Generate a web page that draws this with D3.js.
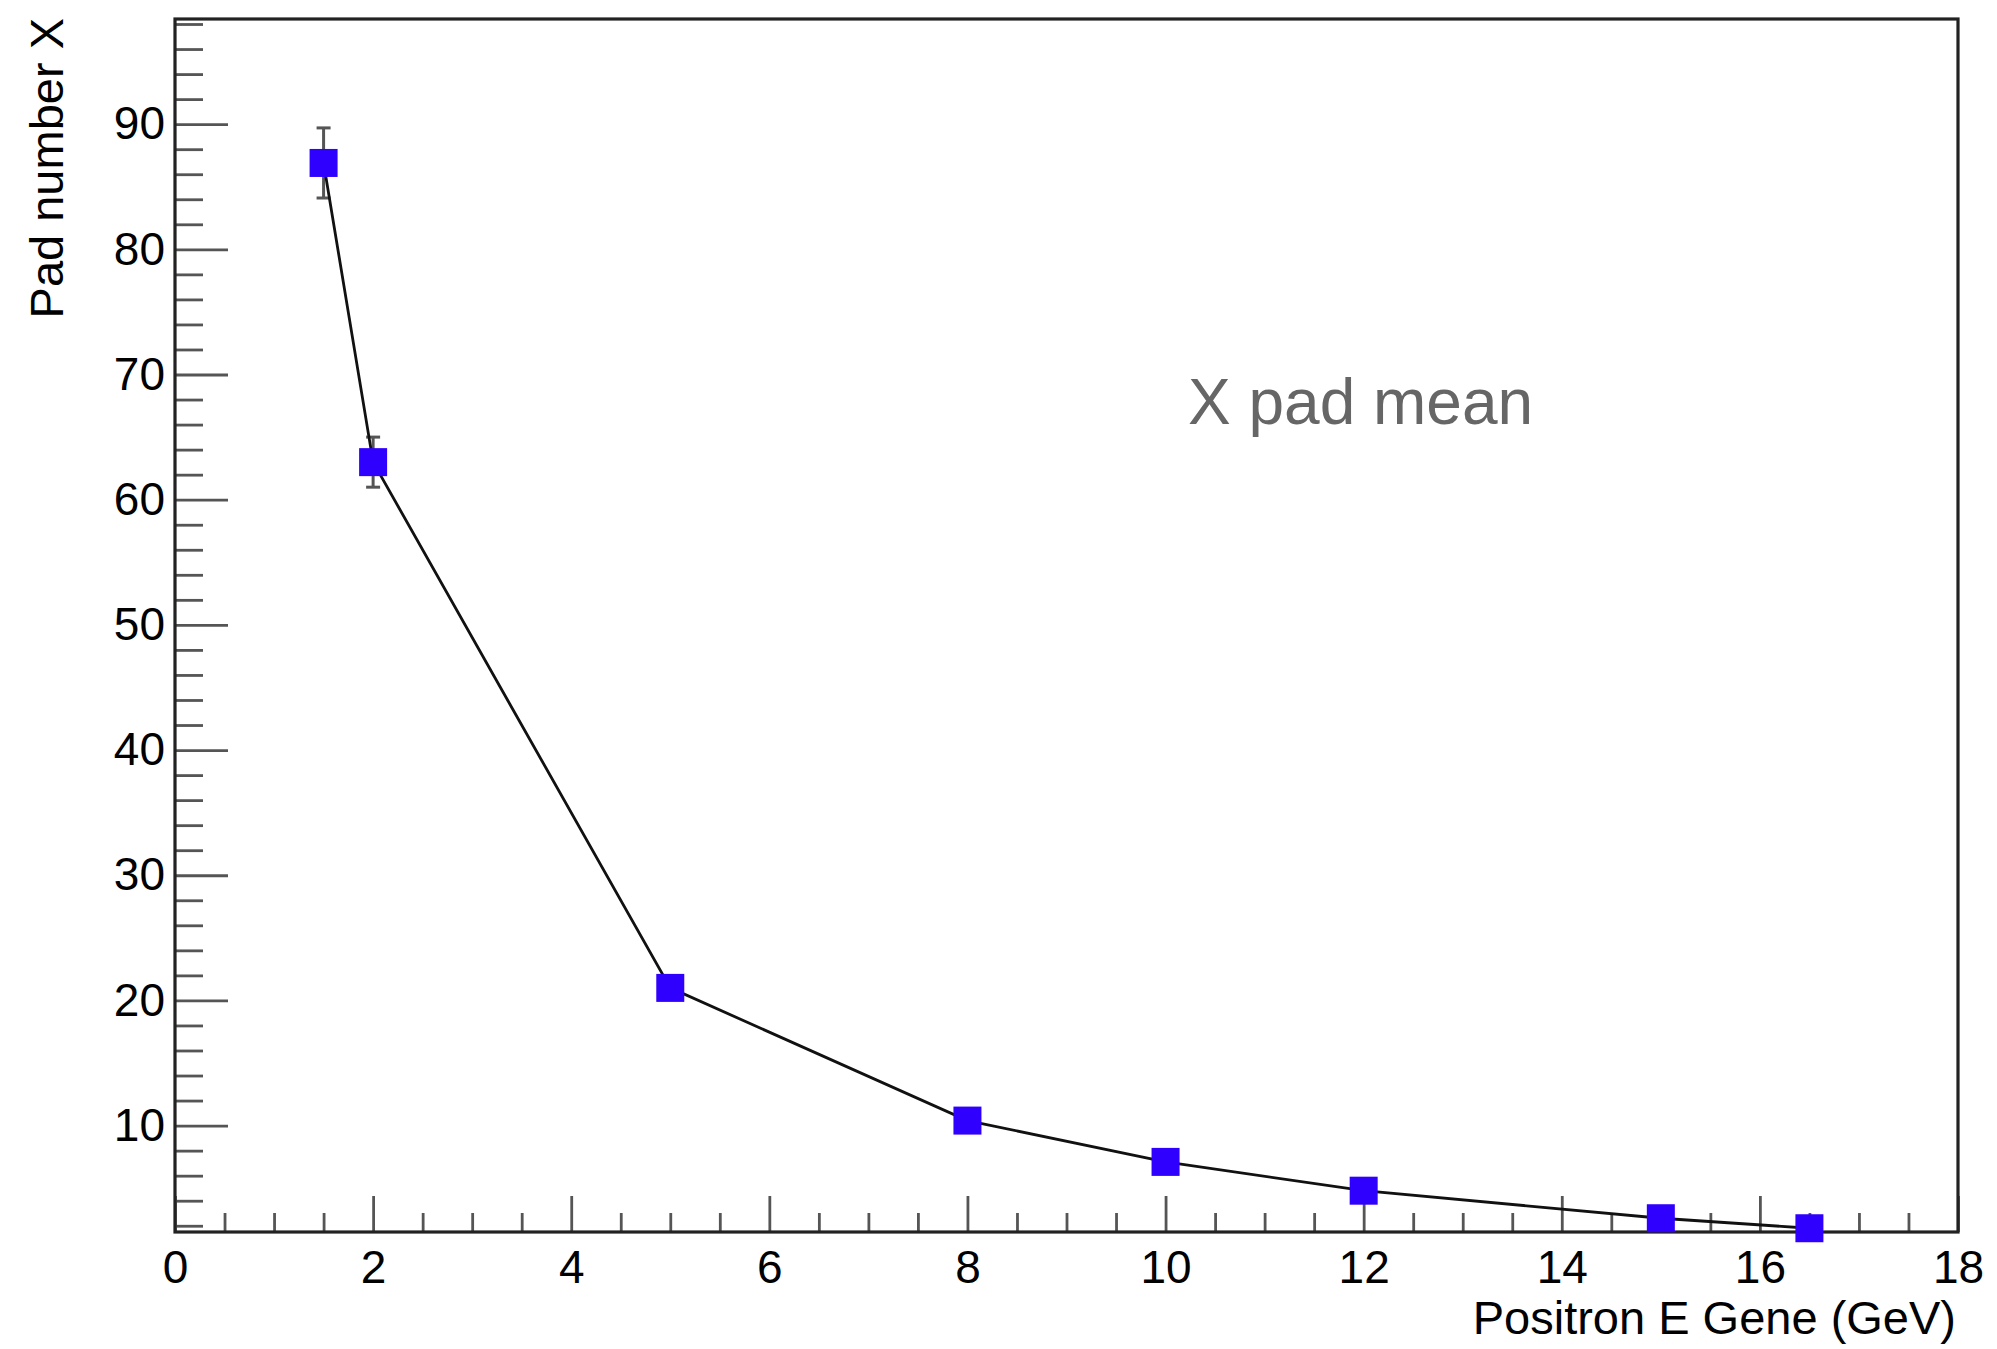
<!DOCTYPE html>
<html>
<head>
<meta charset="utf-8">
<script src="https://cdn.jsdelivr.net/npm/d3@7"></script>
<style>
  html, body { margin: 0; padding: 0; background: #fff; }
  svg { display: block; font-family: "Liberation Sans", Arial, Helvetica, sans-serif; }
</style>
</head>
<body>
<svg id="chart" width="1997" height="1349"></svg>
<script>
// positron generated energy (GeV) vs mean X pad number
const energy = [1.5, 2, 5, 8, 10, 12, 15, 16.5]
const padMean = [86.9, 63.0, 21.0, 10.4, 7.1, 4.8, 2.6, 1.8]
const padErr = [2.8, 2.0, 0.6, 0.4, 0.3, 0.3, 0.2, 0.2]

const xMajor = [0, 2, 4, 6, 8, 10, 12, 14, 16, 18]
const yMajor = [10, 20, 30, 40, 50, 60, 70, 80, 90]

const xTitle = 'Positron E Gene (GeV)'
const yTitle = 'Pad number X'
const note = 'X pad mean'

const frame = { left: 175, right: 1958, top: 19, bottom: 1232 }

const svg = d3.select('#chart')

const x = d3.scaleLinear().domain([0, 18]).range([frame.left, frame.right])
const y = d3.scaleLinear().domain([1.5, 98.4]).range([frame.bottom, frame.top])

const xMinor = d3.range(0.5, 18, 0.5).filter(v => Math.abs(v % 2) > 1e-6)
const yMinor = d3.range(2, 98.4, 2).filter(v => v % 10 !== 0)

// minor ticks first, then major, both pointing inside the frame
svg.append('g')
  .attr('transform', `translate(0,${frame.bottom})`)
  .call(d3.axisBottom(x).tickValues(xMinor).tickSize(-19).tickFormat(''))
  .call(g => g.select('.domain').remove())
  .call(g => g.selectAll('line').attr('stroke', '#555').attr('stroke-width', 2.8))

svg.append('g')
  .attr('transform', `translate(0,${frame.bottom})`)
  .call(d3.axisBottom(x).tickValues(xMajor).tickSize(-36).tickPadding(18).tickFormat(d3.format('d')))
  .call(g => g.select('.domain').remove())
  .call(g => g.selectAll('line').attr('stroke', '#555').attr('stroke-width', 2.8))
  .call(g => g.selectAll('text').attr('font-size', 46).attr('fill', '#000')
    .attr('font-family', '"Liberation Sans", Arial, Helvetica, sans-serif'))

svg.append('g')
  .attr('transform', `translate(${frame.left},0)`)
  .call(d3.axisLeft(y).tickValues(yMinor).tickSize(-28).tickFormat(''))
  .call(g => g.select('.domain').remove())
  .call(g => g.selectAll('line').attr('stroke', '#555').attr('stroke-width', 2.8))

svg.append('g')
  .attr('transform', `translate(${frame.left},0)`)
  .call(d3.axisLeft(y).tickValues(yMajor).tickSize(-53).tickPadding(10).tickFormat(d3.format('d')))
  .call(g => g.select('.domain').remove())
  .call(g => g.selectAll('line').attr('stroke', '#555').attr('stroke-width', 2.8))
  .call(g => g.selectAll('text').attr('font-size', 46).attr('fill', '#000')
    .attr('font-family', '"Liberation Sans", Arial, Helvetica, sans-serif'))

// frame
svg.append('rect')
  .attr('x', frame.left)
  .attr('y', frame.top)
  .attr('width', frame.right - frame.left)
  .attr('height', frame.bottom - frame.top)
  .attr('fill', 'none')
  .attr('stroke', '#222')
  .attr('stroke-width', 3.2)

const points = energy.map((e, i) => ({ x: e, y: padMean[i], err: padErr[i] }))

// error bars
const errs = svg.append('g').attr('class', 'errors')
  .selectAll('g').data(points).enter().append('g')
errs.append('line')
  .attr('x1', d => x(d.x)).attr('x2', d => x(d.x))
  .attr('y1', d => y(d.y + d.err)).attr('y2', d => y(d.y - d.err))
errs.append('line')
  .attr('x1', d => x(d.x) - 7).attr('x2', d => x(d.x) + 7)
  .attr('y1', d => y(d.y + d.err)).attr('y2', d => y(d.y + d.err))
errs.append('line')
  .attr('x1', d => x(d.x) - 7).attr('x2', d => x(d.x) + 7)
  .attr('y1', d => y(d.y - d.err)).attr('y2', d => y(d.y - d.err))
errs.selectAll('line').attr('stroke', '#555').attr('stroke-width', 3)

// connecting line
const line = d3.line().x(d => x(d.x)).y(d => y(d.y))
svg.append('path')
  .datum(points)
  .attr('d', line)
  .attr('fill', 'none')
  .attr('stroke', '#111')
  .attr('stroke-width', 2.8)

// square markers
const size = 28
svg.append('g').selectAll('rect').data(points).enter().append('rect')
  .attr('x', d => x(d.x) - size / 2)
  .attr('y', d => y(d.y) - size / 2)
  .attr('width', size)
  .attr('height', size)
  .attr('fill', '#3000ff')

// titles
svg.append('text')
  .attr('x', frame.right - 2)
  .attr('y', 1334)
  .attr('text-anchor', 'end')
  .attr('font-size', 47)
  .attr('fill', '#000')
  .text(xTitle)

svg.append('text')
  .attr('transform', 'translate(63,18) rotate(-90)')
  .attr('text-anchor', 'end')
  .attr('font-size', 47)
  .attr('fill', '#000')
  .text(yTitle)

svg.append('text')
  .attr('x', 1188)
  .attr('y', 424)
  .attr('font-size', 64)
  .attr('fill', '#666')
  .text(note)
</script>
</body>
</html>
